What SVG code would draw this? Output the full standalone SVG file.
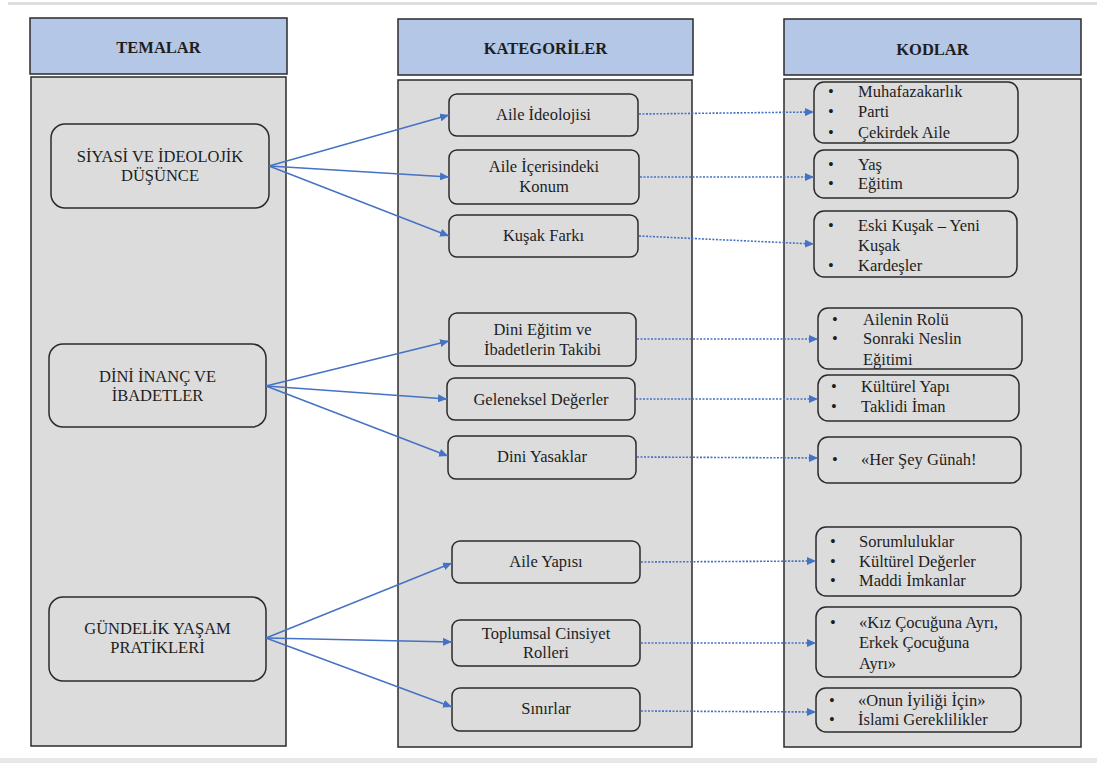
<svg xmlns="http://www.w3.org/2000/svg" width="1097" height="763" viewBox="0 0 1097 763">
<style>
.hdr{fill:#b4c7e7;stroke:#2b2b2b;stroke-width:1.5}
.panel{fill:#dcdcdc;stroke:#2b2b2b;stroke-width:1.5}
.box{fill:#dcdcdc;stroke:#2b2b2b;stroke-width:1.5}
text{font-family:'Liberation Serif',serif;font-size:16.5px;fill:#1e1e1e}
.ht{font-weight:bold;text-anchor:middle}
.c{text-anchor:middle}
.solid{stroke:#4472c4;stroke-width:1.4;fill:none}
.dot{stroke:#4472c4;stroke-width:1.6;fill:none;stroke-dasharray:2 1.5}
</style>
<defs>
<marker id="ah" markerUnits="userSpaceOnUse" markerWidth="10" markerHeight="8" refX="9" refY="4" orient="auto">
<path d="M0,0 L9,4 L0,8 Z" fill="#4472c4"/>
</marker>
</defs>
<rect x="8" y="2" width="1089" height="3" fill="#dedede"/>
<rect x="0" y="758" width="1097" height="5" fill="#e8e8e8"/>

<g id="col-temalar">
<rect class="hdr" x="30" y="18" width="257" height="56"/>
<text class="ht" x="158.5" y="53" font-family="Liberation Serif">TEMALAR</text>
<rect class="panel" x="31" y="77" width="255" height="669"/>
</g>
<g id="col-kategoriler">
<rect class="hdr" x="398" y="19" width="295" height="56"/>
<text class="ht" x="545.5" y="54">KATEGORİLER</text>
<rect class="panel" x="398" y="80" width="294" height="667"/>
</g>
<g id="col-kodlar">
<rect class="hdr" x="784" y="19" width="297" height="56"/>
<text class="ht" x="932.5" y="55">KODLAR</text>
<rect class="panel" x="784" y="79" width="297" height="668"/>
</g>

<g id="t1"><rect class="box" x="51" y="124" width="218" height="84" rx="14"/>
<text class="c" x="160" y="162">SİYASİ VE İDEOLOJİK</text><text class="c" x="160" y="181">DÜŞÜNCE</text></g>
<g id="t2"><rect class="box" x="49" y="344" width="217" height="83" rx="14"/>
<text class="c" x="157.5" y="382">DİNİ İNANÇ VE</text><text class="c" x="157.5" y="401">İBADETLER</text></g>
<g id="t3"><rect class="box" x="49" y="597" width="217" height="84" rx="14"/>
<text class="c" x="157.5" y="634">GÜNDELİK YAŞAM</text><text class="c" x="157.5" y="653">PRATİKLERİ</text></g>

<g id="k1"><rect class="box" x="449" y="94" width="189" height="42" rx="8"/><text class="c" x="543.5" y="120">Aile İdeolojisi</text></g>
<g id="k2"><rect class="box" x="449" y="150" width="190" height="54" rx="8"/><text class="c" x="544" y="172">Aile İçerisindeki</text><text class="c" x="544" y="192">Konum</text></g>
<g id="k3"><rect class="box" x="449" y="215" width="189" height="42" rx="8"/><text class="c" x="543.5" y="241">Kuşak Farkı</text></g>
<g id="k4"><rect class="box" x="449" y="313" width="187" height="53" rx="8"/><text class="c" x="542.5" y="335">Dini Eğitim ve</text><text class="c" x="542.5" y="355">İbadetlerin Takibi</text></g>
<g id="k5"><rect class="box" x="447" y="378" width="188" height="42" rx="8"/><text class="c" x="541" y="405">Geleneksel Değerler</text></g>
<g id="k6"><rect class="box" x="448" y="436" width="188" height="43" rx="8"/><text class="c" x="542" y="462">Dini Yasaklar</text></g>
<g id="k7"><rect class="box" x="452" y="541" width="188" height="42" rx="8"/><text class="c" x="546" y="567">Aile Yapısı</text></g>
<g id="k8"><rect class="box" x="452" y="620" width="188" height="46" rx="8"/><text class="c" x="546" y="639">Toplumsal Cinsiyet</text><text class="c" x="546" y="658">Rolleri</text></g>
<g id="k9"><rect class="box" x="452" y="688" width="188" height="43" rx="8"/><text class="c" x="546" y="714">Sınırlar</text></g>

<g id="c1"><rect class="box" x="814" y="82" width="204" height="61" rx="10"/>
<text x="828" y="97">•</text><text x="858" y="97">Muhafazakarlık</text>
<text x="828" y="117">•</text><text x="858" y="117">Parti</text>
<text x="828" y="138">•</text><text x="858" y="138">Çekirdek Aile</text></g>
<g id="c2"><rect class="box" x="814" y="150" width="204" height="48" rx="10"/>
<text x="828" y="170">•</text><text x="858" y="170">Yaş</text>
<text x="828" y="189">•</text><text x="858" y="189">Eğitim</text></g>
<g id="c3"><rect class="box" x="814" y="211" width="203" height="66" rx="10"/>
<text x="828" y="231">•</text><text x="858" y="231">Eski Kuşak – Yeni</text>
<text x="858" y="251">Kuşak</text>
<text x="828" y="271">•</text><text x="858" y="271">Kardeşler</text></g>
<g id="c4"><rect class="box" x="818" y="308" width="204" height="61" rx="10"/>
<text x="832" y="325">•</text><text x="863" y="325">Ailenin Rolü</text>
<text x="832" y="344">•</text><text x="863" y="344">Sonraki Neslin</text>
<text x="863" y="365">Eğitimi</text></g>
<g id="c5"><rect class="box" x="818" y="375" width="201" height="46" rx="10"/>
<text x="831" y="392">•</text><text x="861" y="392">Kültürel Yapı</text>
<text x="831" y="412">•</text><text x="861" y="412">Taklidi İman</text></g>
<g id="c6"><rect class="box" x="818" y="437" width="203" height="46" rx="10"/>
<text x="832" y="465">•</text><text x="861" y="465">«Her Şey Günah!</text></g>
<g id="c7"><rect class="box" x="816" y="527" width="205" height="69" rx="10"/>
<text x="830" y="547">•</text><text x="859" y="547">Sorumluluklar</text>
<text x="830" y="567">•</text><text x="859" y="567">Kültürel Değerler</text>
<text x="830" y="586">•</text><text x="859" y="586">Maddi İmkanlar</text></g>
<g id="c8"><rect class="box" x="816" y="607" width="205" height="70" rx="10"/>
<text x="830" y="628">•</text><text x="859" y="628">«Kız Çocuğuna Ayrı,</text>
<text x="859" y="648">Erkek Çocuğuna</text>
<text x="859" y="669">Ayrı»</text></g>
<g id="c9"><rect class="box" x="816" y="688" width="205" height="44" rx="10"/>
<text x="829" y="706">•</text><text x="858" y="706">«Onun İyiliği İçin»</text>
<text x="829" y="725">•</text><text x="858" y="725">İslami Gereklilikler</text></g>

<g id="connectors">
<line class="solid" x1="269" y1="166" x2="449" y2="115" marker-end="url(#ah)"/>
<line class="solid" x1="269" y1="166" x2="449" y2="177" marker-end="url(#ah)"/>
<line class="solid" x1="269" y1="166" x2="449" y2="236" marker-end="url(#ah)"/>
<line class="solid" x1="266" y1="386" x2="449" y2="341" marker-end="url(#ah)"/>
<line class="solid" x1="266" y1="386" x2="447" y2="399" marker-end="url(#ah)"/>
<line class="solid" x1="266" y1="386" x2="448" y2="456" marker-end="url(#ah)"/>
<line class="solid" x1="266" y1="638" x2="452" y2="563" marker-end="url(#ah)"/>
<line class="solid" x1="266" y1="638" x2="452" y2="642" marker-end="url(#ah)"/>
<line class="solid" x1="266" y1="638" x2="452" y2="707" marker-end="url(#ah)"/>
<line class="dot" x1="639" y1="114" x2="814" y2="112" marker-end="url(#ah)"/>
<line class="dot" x1="640" y1="177" x2="814" y2="177" marker-end="url(#ah)"/>
<line class="dot" x1="639" y1="236" x2="814" y2="244" marker-end="url(#ah)"/>
<line class="dot" x1="637" y1="339" x2="818" y2="339" marker-end="url(#ah)"/>
<line class="dot" x1="636" y1="399" x2="818" y2="399" marker-end="url(#ah)"/>
<line class="dot" x1="637" y1="457" x2="818" y2="458" marker-end="url(#ah)"/>
<line class="dot" x1="641" y1="562" x2="816" y2="561" marker-end="url(#ah)"/>
<line class="dot" x1="641" y1="643" x2="816" y2="643" marker-end="url(#ah)"/>
<line class="dot" x1="641" y1="711" x2="816" y2="712" marker-end="url(#ah)"/>
</g>
</svg>
